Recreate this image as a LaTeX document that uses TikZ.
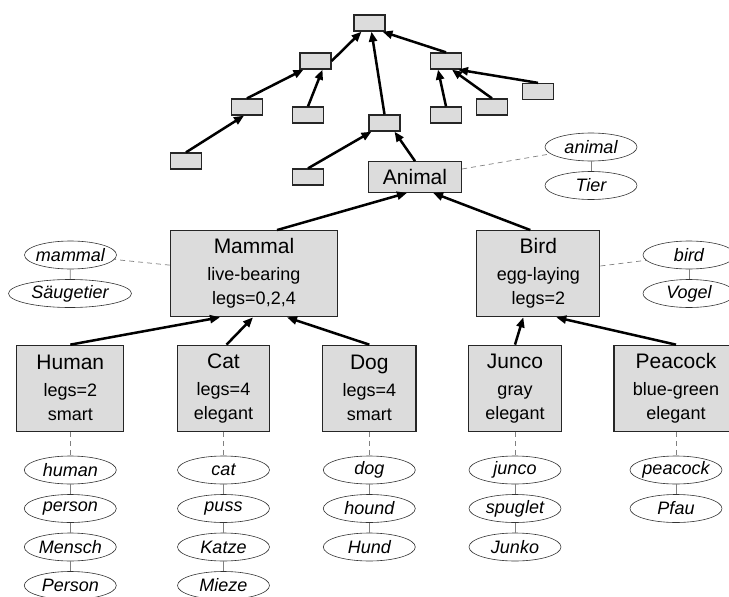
\documentclass[tikz,border=0pt]{standalone}
\usepackage{fontspec}
\setmainfont{Liberation Sans}
\usetikzlibrary{shapes.geometric,arrows.meta}
\definecolor{boxgray}{RGB}{220,220,220}
\newcommand\lbl[1]{\makebox[0pt][c]{#1}}
\newcommand\ttl[1]{{\fontsize{21}{24}\selectfont #1}}
\begin{document}
\begin{tikzpicture}[x=1pt,y=-1pt,
  box/.style={draw=black!85, fill=boxgray, line width=1.3pt, inner sep=0pt},
  small/.style={box, minimum width=31pt, minimum height=16pt},
  mainbox/.style={box, align=center, minimum height=86pt, font=\fontsize{18}{24}\selectfont},
  word/.style={ellipse, draw=black!80, line width=0.6pt, fill=white, minimum width=92pt, minimum height=28pt, inner sep=0pt, font=\fontsize{18}{20}\selectfont\itshape},
  arr/.style={-{Triangle[length=10pt,width=8pt]}, line width=2.5pt},
  link/.style={draw=gray, line width=0.7pt, dash pattern=on 5pt off 4pt},
  syn/.style={draw=gray, line width=0.7pt}
]
\useasboundingbox (0,0) rectangle (729,597);
\clip (0,0) rectangle (729,597);

% top tree
\node[small] (t0) at (369.5,23) {};
\node[small] (t1) at (315.5,61) {};
\node[small] (t2) at (446,61) {};
\node[small] (t3) at (247,107) {};
\node[small] (t4) at (308,115) {};
\node[small] (t5) at (384.5,123) {};
\node[small] (t6) at (446,115) {};
\node[small] (t7) at (492,107) {};
\node[small] (t8) at (538,91.5) {};
\node[small] (t9) at (186,161) {};
\node[small] (t10) at (308,177) {};

% main boxes
\node[box, minimum width=93pt, minimum height=30.5pt, font=\fontsize{21}{24}\selectfont] (animal) at (415,177) {Animal};
\node[mainbox, minimum width=167pt] (mammal) at (254,273.7) {\ttl{Mammal}\\[3pt] live-bearing\\ legs=0,2,4};
\node[mainbox, minimum width=123pt] (bird) at (538.3,273.7) {\ttl{Bird}\\[3pt] egg-laying\\ legs=2};
\node[mainbox, minimum width=107pt] (human) at (70.3,388.3) {\ttl{Human}\\[3pt] legs=2\\ smart};
\node[mainbox, minimum width=91.7pt] (cat) at (223.5,388.3) {\ttl{Cat}\\[3pt] legs=4\\ elegant};
\node[mainbox, minimum width=93.3pt] (dog) at (369.3,388.3) {\ttl{Dog}\\[3pt] legs=4\\ smart};
\node[mainbox, minimum width=93.3pt] (junco) at (515,388.3) {\ttl{Junco}\\[3pt] gray\\ elegant};
\node[mainbox, minimum width=124pt] (peacock) at (676,388.3) {\ttl{Peacock}\\[3pt] blue-green\\ elegant};

% word ellipses
\node[word] (w-animal) at (591,147) {\lbl{animal}};
\node[word] (w-tier) at (591,185.5) {\lbl{Tier}};
\node[word] (w-mammal) at (70.5,255) {\lbl{mammal}};
\node[word, minimum width=123pt] (w-saeug) at (70,293.5) {\lbl{Säugetier}};
\node[word] (w-bird) at (689,255) {\lbl{bird}};
\node[word] (w-vogel) at (689,293.5) {\lbl{Vogel}};

\node[word] (w-human) at (70.3,470) {\lbl{human}};
\node[word] (w-person) at (70.3,508.5) {\lbl{person}};
\node[word] (w-mensch) at (70.3,547) {\lbl{Mensch}};
\node[word] (w-Person) at (70.3,585.5) {\lbl{Person}};

\node[word] (w-cat) at (223.5,470) {\lbl{cat}};
\node[word] (w-puss) at (223.5,508.5) {\lbl{puss}};
\node[word] (w-katze) at (223.5,547) {\lbl{Katze}};
\node[word] (w-mieze) at (223.5,585.5) {\lbl{Mieze}};

\node[word] (w-dog) at (369.3,470) {\lbl{dog}};
\node[word] (w-hound) at (369.3,508.5) {\lbl{hound}};
\node[word] (w-hund) at (369.3,547) {\lbl{Hund}};

\node[word] (w-junco) at (515,470) {\lbl{junco}};
\node[word] (w-spuglet) at (515,508.5) {\lbl{spuglet}};
\node[word] (w-junko) at (515,547) {\lbl{Junko}};

\node[word] (w-peacock) at (676,470) {\lbl{peacock}};
\node[word] (w-pfau) at (676,508.5) {\lbl{Pfau}};

% top tree arrows
\draw[arr] (t9.north) -- ([xshift=-3]t3.south);
\draw[arr] (t3.north) -- ([xshift=-12]t1.south);
\draw[arr] (t4.north) -- ([xshift=7]t1.south);
\draw[arr] (t1.east) -- ([xshift=-8]t0.south);
\draw[arr] (t5.north) -- ([xshift=2]t0.south);
\draw[arr] (t2.north) -- ([xshift=13]t0.south);
\draw[arr] (t6.north) -- ([xshift=-8]t2.south);
\draw[arr] (t7.north) -- ([xshift=6]t2.south);
\draw[arr] (t8.north) -- ([xshift=12]t2.south);
\draw[arr] (t10.north) -- ([xshift=-13]t5.south);
\draw[arr] (animal.north) -- ([xshift=10]t5.south);

% main arrows
\draw[arr] ([xshift=23]mammal.north) -- ([xshift=-8]animal.south);
\draw[arr] ([xshift=-8]bird.north) -- ([xshift=18]animal.south);
\draw[arr] (human.north) -- ([xshift=-34]mammal.south);
\draw[arr] ([xshift=3]cat.north) -- ([xshift=-1]mammal.south);
\draw[arr] (dog.north) -- ([xshift=33]mammal.south);
\draw[arr] (junco.north) -- ([xshift=-15]bird.south);
\draw[arr] (peacock.north) -- ([xshift=18]bird.south);

% word links
\draw[link] (animal) -- (w-animal);
\draw[syn] (w-animal) -- (w-tier);
\draw[link] (mammal) -- (w-mammal);
\draw[syn] (w-mammal) -- (w-saeug);
\draw[link] (bird) -- (w-bird);
\draw[syn] (w-bird) -- (w-vogel);

\draw[link] (human) -- (w-human);
\draw[syn] (w-human) -- (w-person);
\draw[syn] (w-person) -- (w-mensch);
\draw[syn] (w-mensch) -- (w-Person);

\draw[link] (cat) -- (w-cat);
\draw[syn] (w-cat) -- (w-puss);
\draw[syn] (w-puss) -- (w-katze);
\draw[syn] (w-katze) -- (w-mieze);

\draw[link] (dog) -- (w-dog);
\draw[syn] (w-dog) -- (w-hound);
\draw[syn] (w-hound) -- (w-hund);

\draw[link] (junco) -- (w-junco);
\draw[syn] (w-junco) -- (w-spuglet);
\draw[syn] (w-spuglet) -- (w-junko);

\draw[link] (peacock) -- (w-peacock);
\draw[syn] (w-peacock) -- (w-pfau);
\end{tikzpicture}
\end{document}
